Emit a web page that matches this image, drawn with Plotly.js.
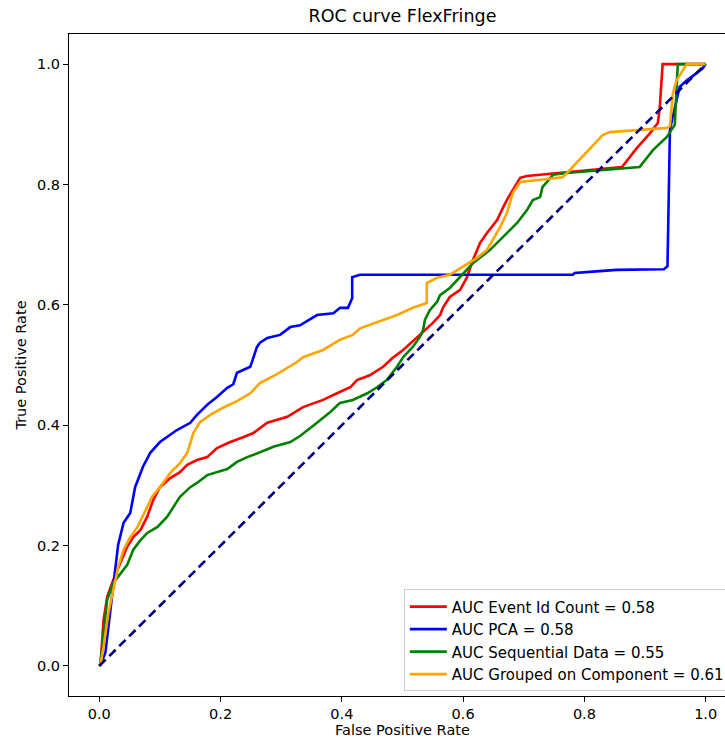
<!DOCTYPE html>
<html>
<head>
<meta charset="utf-8">
<script src="https://cdn.plot.ly/plotly-3.0.1.min.js"></script>
<style>
html, body { margin: 0; padding: 0; overflow: hidden; background: #fff; }
#chart { width: 745px; height: 742px; }
</style>
</head>
<body>
<div id="chart"></div>
<script>
const titleText = "ROC curve FlexFringe";
const xTitle = "False Positive Rate";
const yTitle = "True Positive Rate";
const tickVals = [0, 0.2, 0.4, 0.6, 0.8, 1.0];
const tickLabels = ["0.0", "0.2", "0.4", "0.6", "0.8", "1.0"];

const seriesNames = [
  "AUC Event Id Count = 0.58",
  "AUC PCA = 0.58",
  "AUC Sequential Data = 0.55",
  "AUC Grouped on Component = 0.61"
];
const seriesColors = ["red", "blue", "green", "orange"];

// Event Id Count
const eventFpr = [0, 0.002, 0.007, 0.013, 0.023, 0.035, 0.046, 0.056, 0.068, 0.079, 0.089, 0.100, 0.117, 0.133, 0.145, 0.161, 0.178, 0.194, 0.216, 0.237, 0.254, 0.277, 0.310, 0.336, 0.369, 0.392, 0.414, 0.425, 0.446, 0.468, 0.484, 0.501, 0.524, 0.534, 0.550, 0.562, 0.567, 0.578, 0.595, 0.606, 0.616, 0.628, 0.639, 0.656, 0.666, 0.672, 0.682, 0.694, 0.705, 0.781, 0.862, 0.886, 0.908, 0.921, 0.924, 0.929, 1.0];
const eventTpr = [0, 0.002, 0.076, 0.115, 0.143, 0.173, 0.198, 0.214, 0.226, 0.248, 0.276, 0.297, 0.312, 0.322, 0.334, 0.342, 0.347, 0.362, 0.372, 0.380, 0.387, 0.404, 0.414, 0.430, 0.442, 0.453, 0.463, 0.475, 0.483, 0.497, 0.512, 0.525, 0.547, 0.555, 0.570, 0.583, 0.596, 0.613, 0.625, 0.645, 0.674, 0.703, 0.719, 0.741, 0.762, 0.774, 0.791, 0.811, 0.814, 0.821, 0.829, 0.860, 0.885, 0.902, 0.924, 1.0, 1.0];

// PCA
const pcaFpr = [0, 0.002, 0.010, 0.015, 0.021, 0.026, 0.031, 0.040, 0.051, 0.059, 0.072, 0.084, 0.100, 0.128, 0.150, 0.161, 0.178, 0.194, 0.211, 0.221, 0.227, 0.249, 0.254, 0.260, 0.265, 0.277, 0.298, 0.315, 0.331, 0.359, 0.386, 0.397, 0.410, 0.417, 0.417, 0.430, 0.781, 0.784, 0.825, 0.853, 0.931, 0.937, 0.941, 0.944, 0.957, 0.969, 0.985, 0.995, 1.0];
const pcaTpr = [0, 0.002, 0.022, 0.065, 0.115, 0.164, 0.201, 0.238, 0.254, 0.297, 0.331, 0.354, 0.372, 0.392, 0.404, 0.417, 0.434, 0.447, 0.462, 0.468, 0.487, 0.497, 0.513, 0.530, 0.537, 0.545, 0.550, 0.563, 0.566, 0.583, 0.586, 0.595, 0.595, 0.611, 0.646, 0.650, 0.650, 0.653, 0.656, 0.658, 0.659, 0.664, 0.890, 0.905, 0.962, 0.973, 0.985, 0.993, 1.0];

// Sequential Data
const seqFpr = [0, 0.002, 0.007, 0.013, 0.023, 0.035, 0.046, 0.056, 0.068, 0.079, 0.096, 0.112, 0.122, 0.133, 0.150, 0.161, 0.178, 0.194, 0.211, 0.227, 0.244, 0.265, 0.287, 0.315, 0.331, 0.359, 0.381, 0.397, 0.418, 0.442, 0.458, 0.474, 0.491, 0.501, 0.517, 0.529, 0.534, 0.537, 0.545, 0.557, 0.562, 0.578, 0.590, 0.606, 0.616, 0.644, 0.666, 0.689, 0.705, 0.715, 0.727, 0.731, 0.738, 0.748, 0.771, 0.858, 0.891, 0.913, 0.936, 0.949, 0.952, 0.954, 1.0];
const seqTpr = [0, 0.005, 0.055, 0.110, 0.138, 0.154, 0.168, 0.193, 0.209, 0.221, 0.231, 0.248, 0.264, 0.281, 0.297, 0.304, 0.317, 0.322, 0.327, 0.339, 0.347, 0.355, 0.364, 0.372, 0.382, 0.404, 0.422, 0.437, 0.442, 0.453, 0.463, 0.475, 0.497, 0.513, 0.530, 0.547, 0.558, 0.575, 0.591, 0.605, 0.616, 0.628, 0.641, 0.658, 0.669, 0.691, 0.713, 0.736, 0.757, 0.774, 0.779, 0.796, 0.804, 0.816, 0.819, 0.826, 0.829, 0.857, 0.879, 0.899, 0.952, 1.0, 1.0];

// Grouped on Component
const grpFpr = [0, 0.002, 0.007, 0.015, 0.023, 0.031, 0.040, 0.051, 0.063, 0.076, 0.087, 0.100, 0.117, 0.133, 0.145, 0.150, 0.155, 0.166, 0.183, 0.204, 0.227, 0.249, 0.265, 0.293, 0.326, 0.336, 0.369, 0.397, 0.418, 0.430, 0.458, 0.491, 0.517, 0.540, 0.540, 0.557, 0.578, 0.600, 0.623, 0.639, 0.649, 0.661, 0.672, 0.682, 0.694, 0.764, 0.776, 0.792, 0.804, 0.830, 0.842, 0.936, 0.941, 0.946, 0.952, 0.969, 1.0];
const grpTpr = [0, 0.002, 0.032, 0.088, 0.126, 0.164, 0.193, 0.214, 0.231, 0.259, 0.281, 0.297, 0.321, 0.337, 0.354, 0.370, 0.387, 0.405, 0.417, 0.429, 0.440, 0.453, 0.470, 0.485, 0.505, 0.513, 0.525, 0.542, 0.550, 0.561, 0.571, 0.583, 0.595, 0.603, 0.636, 0.645, 0.650, 0.663, 0.678, 0.691, 0.708, 0.729, 0.752, 0.786, 0.804, 0.812, 0.824, 0.841, 0.854, 0.882, 0.887, 0.894, 0.897, 0.952, 0.973, 1.0, 1.0];

const chanceX = [0, 1];
const chanceY = [0, 1];

const xs = [eventFpr, pcaFpr, seqFpr, grpFpr];
const ys = [eventTpr, pcaTpr, seqTpr, grpTpr];

const traces = xs.map((x, i) => ({
  x: x, y: ys[i], type: "scatter", mode: "lines",
  name: seriesNames[i],
  line: { color: seriesColors[i], width: 2.6 },
  hoverinfo: "skip"
}));
traces.push({
  x: chanceX, y: chanceY, type: "scatter", mode: "lines",
  showlegend: false,
  line: { color: "navy", width: 2.6, dash: "9px,5px" },
  hoverinfo: "skip"
});

const font = "DejaVu Sans, sans-serif";
const axisCommon = {
  range: [-0.05, 1.05],
  tickvals: tickVals, ticktext: tickLabels,
  showgrid: false, zeroline: false,
  showline: true, mirror: true, linecolor: "#000", linewidth: 1,
  ticks: "outside", ticklen: 5, tickwidth: 1, tickcolor: "#000",
  tickfont: { family: font, size: 14.5, color: "#000" }
};

const layout = {
  width: 745, height: 742,
  margin: { l: 69, r: 9, t: 34, b: 46 },
  paper_bgcolor: "#fff", plot_bgcolor: "#fff",
  title: { text: titleText, font: { family: font, size: 17.5, color: "#000" }, x: 0.5, xref: "paper", y: 0.978, yanchor: "middle" },
  xaxis: Object.assign({}, axisCommon, { title: { text: xTitle, font: { family: font, size: 14.5, color: "#000" }, standoff: 3 } }),
  yaxis: Object.assign({}, axisCommon, { title: { text: yTitle, font: { family: font, size: 14.5, color: "#000" }, standoff: 6 } }),
  legend: {
    x: 0.502, y: 0.161, xanchor: "left", yanchor: "top",
    bgcolor: "rgba(255,255,255,0.85)", bordercolor: "#ccc", borderwidth: 1,
    font: { family: font, size: 15, color: "#000" },
    itemwidth: 37
  },
  showlegend: true
};

Plotly.newPlot("chart", traces, layout, { staticPlot: true, displayModeBar: false });
</script>
</body>
</html>
